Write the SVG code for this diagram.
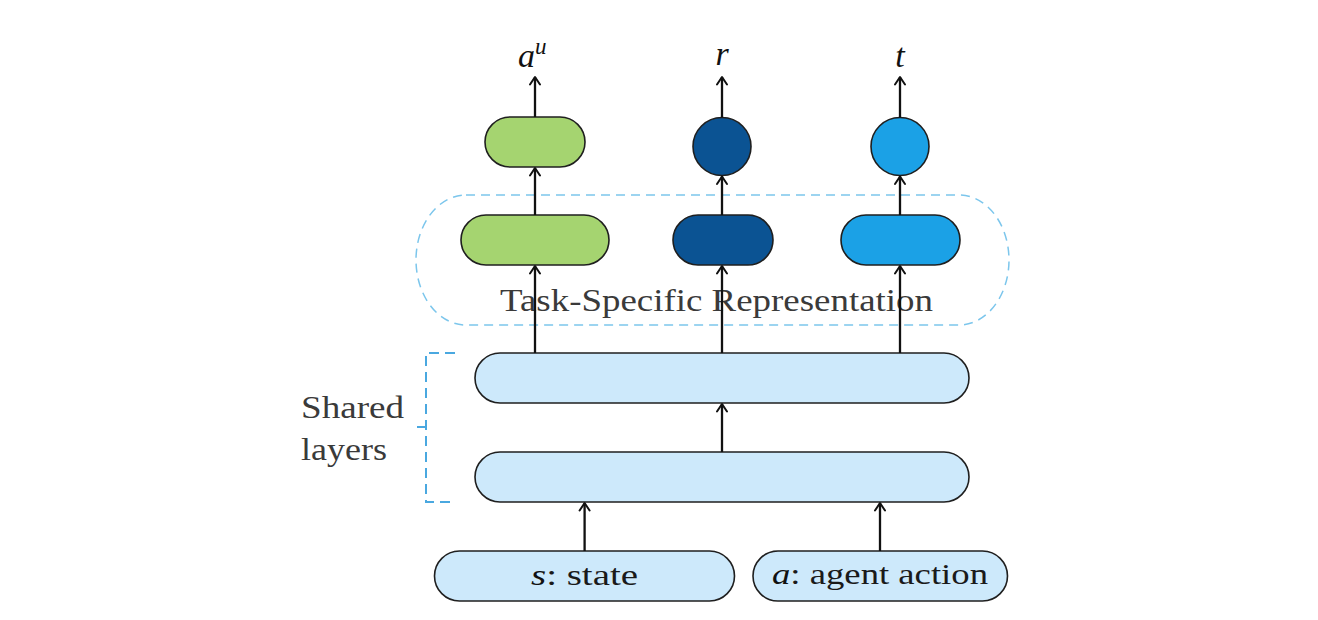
<svg xmlns="http://www.w3.org/2000/svg" width="1318" height="620" viewBox="0 0 1318 620">
<style>
.node{stroke:#1f1f1f;stroke-width:1.6}
.green{fill:#a5d470}
.dark{fill:#0b5393}
.light{fill:#1ba1e6}
.pale{fill:#cde9fb}
.lbl{font-family:"Liberation Serif","DejaVu Serif",serif;fill:#1a1a1a}
.math{font-family:"Liberation Serif","DejaVu Serif",serif;font-style:italic;fill:#111}
.gray{font-family:"Liberation Serif","DejaVu Serif",serif;fill:#3a3a3a}
.conn line{stroke:#111;stroke-width:2.3;marker-end:url(#arr)}
</style>
<defs>
<marker id="arr" viewBox="0 0 14 14" refX="11" refY="7" markerWidth="14" markerHeight="14" markerUnits="userSpaceOnUse" orient="auto">
<path d="M3.5,2 L11,7 L3.5,12" fill="none" stroke="#111" stroke-width="2" stroke-linecap="round" stroke-linejoin="round"/>
</marker>
</defs>
<rect width="1318" height="620" fill="#ffffff"/>

<g id="task-region">
<rect x="416" y="195" width="593" height="130" rx="50" ry="65" fill="none" stroke="#7cc6ec" stroke-width="1.5" stroke-dasharray="9 6"/>
<text class="gray" x="500" y="311" font-size="32" textLength="433" lengthAdjust="spacingAndGlyphs">Task-Specific Representation</text>
</g>

<g id="shared-bracket">
<path d="M455,353 H426 V502 H455 M426,427 H417" fill="none" stroke="#4aa8e0" stroke-width="2" stroke-dasharray="10 6"/>
<text class="gray" x="301" y="418" font-size="32" textLength="103" lengthAdjust="spacingAndGlyphs">Shared</text>
<text class="gray" x="301" y="460" font-size="32" textLength="86" lengthAdjust="spacingAndGlyphs">layers</text>
</g>

<g id="out-au"><rect class="node green" x="485" y="117" width="100" height="50" rx="25"/></g>
<g id="out-r"><circle class="node dark" cx="722" cy="146.5" r="29"/></g>
<g id="out-t"><circle class="node light" cx="900" cy="146.5" r="29"/></g>

<g id="task-au"><rect class="node green" x="461" y="215" width="148" height="50" rx="25"/></g>
<g id="task-r"><rect class="node dark" x="673" y="215" width="100" height="50" rx="25"/></g>
<g id="task-t"><rect class="node light" x="841" y="215" width="119" height="50" rx="25"/></g>

<g id="shared-upper"><rect class="node pale" x="475" y="353" width="494" height="50" rx="25"/></g>
<g id="shared-lower"><rect class="node pale" x="475" y="452" width="494" height="50" rx="25"/></g>

<g id="input-state">
<rect class="node pale" x="434.5" y="551" width="300" height="50" rx="25"/>
<text x="531" y="585" font-size="30" class="lbl" textLength="107" lengthAdjust="spacingAndGlyphs"><tspan class="math">s</tspan>:  state</text>
</g>
<g id="input-action">
<rect class="node pale" x="753" y="551" width="254.5" height="50" rx="25"/>
<text x="772" y="584" font-size="30" class="lbl" textLength="216" lengthAdjust="spacingAndGlyphs"><tspan class="math">a</tspan>:  agent action</text>
</g>

<g id="labels">
<text class="math" x="518" y="67" font-size="34">a<tspan font-size="23" dy="-13">u</tspan></text>
<text class="math" x="722" y="65" font-size="34" text-anchor="middle">r</text>
<text class="math" x="900" y="67" font-size="34" text-anchor="middle">t</text>
</g>

<g id="connectors" class="conn">
<line x1="535" y1="117" x2="535" y2="77"/>
<line x1="722" y1="117.5" x2="722" y2="77"/>
<line x1="900" y1="117.5" x2="900" y2="77"/>
<line x1="535" y1="215" x2="535" y2="168"/>
<line x1="722" y1="215" x2="722" y2="176.5"/>
<line x1="900" y1="215" x2="900" y2="176.5"/>
<line x1="535" y1="353" x2="535" y2="266"/>
<line x1="722" y1="353" x2="722" y2="266"/>
<line x1="900" y1="353" x2="900" y2="266"/>
<line x1="722" y1="452" x2="722" y2="404"/>
<line x1="584.6" y1="551" x2="584.6" y2="503"/>
<line x1="880" y1="551" x2="880" y2="503"/>
</g>
</svg>
